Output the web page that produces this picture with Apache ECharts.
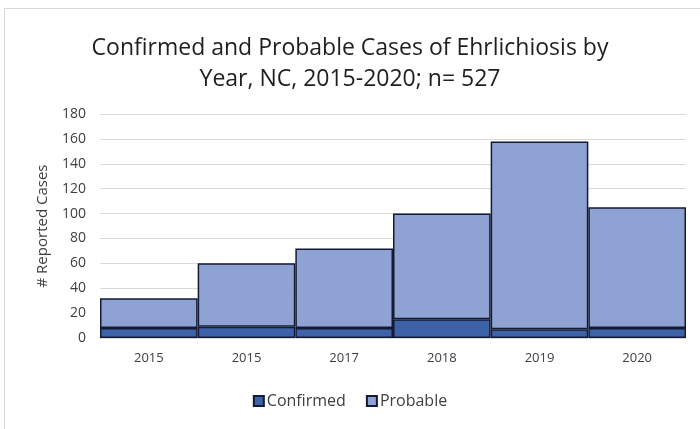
<!DOCTYPE html>
<html>
<head>
<meta charset="utf-8">
<script src="https://cdn.jsdelivr.net/npm/echarts@6/dist/echarts.min.js"></script>
<style>html,body{margin:0;padding:0;background:#fff;}#c{width:700px;height:429px;}</style>
</head>
<body>
<div id="c"></div>
<script>
var categories = ['2015', '2015', '2017', '2018', '2019', '2020'];
var confirmed = [8, 9, 8, 15, 7, 8];
var probable = [24, 51, 64, 85, 151, 97];
var yTicks = [0, 20, 40, 60, 80, 100, 120, 140, 160, 180];

var chart = echarts.init(document.getElementById('c'));
var font = "'Open Sans', 'Noto Sans', sans-serif";
chart.setOption({
  animation: false,
  backgroundColor: '#fff',
  title: {
    text: 'Confirmed and Probable Cases of Ehrlichiosis by\nYear, NC, 2015-2020; n= 527',
    left: 'center',
    top: 28,
    textStyle: { fontFamily: font, fontSize: 23, fontWeight: 'normal', color: '#1f1f1f', lineHeight: 31 }
  },
  graphic: [
    { type: 'line', shape: { x1: 4.5, y1: 8, x2: 4.5, y2: 429 }, style: { stroke: '#d9d9d9', lineWidth: 1 } },
    { type: 'line', shape: { x1: 4, y1: 8.5, x2: 700, y2: 8.5 }, style: { stroke: '#d9d9d9', lineWidth: 1 } }
  ],
  legend: {
    bottom: 15,
    left: 'center',
    icon: 'rect',
    itemWidth: 10,
    itemHeight: 10,
    itemGap: 20,
    textStyle: { fontFamily: font, fontSize: 16, color: '#404040', padding: [0, 0, 0, -2] },
    data: ['Confirmed', 'Probable']
  },
  grid: { left: 100, right: 14, top: 114, bottom: 91 },
  xAxis: {
    type: 'category',
    data: categories,
    axisLine: { show: true, lineStyle: { color: '#d9d9d9' } },
    axisTick: { show: false },
    axisLabel: { fontFamily: font, fontSize: 13, color: '#404040', margin: 14 }
  },
  yAxis: {
    type: 'value',
    min: yTicks[0],
    max: yTicks[yTicks.length - 1],
    interval: 20,
    name: '# Reported Cases',
    nameLocation: 'middle',
    nameGap: 50,
    nameTextStyle: { fontFamily: font, fontSize: 15, color: '#404040' },
    axisLine: { show: false },
    axisTick: { show: false },
    splitLine: { lineStyle: { color: '#d9d9d9' } },
    axisLabel: { fontFamily: font, fontSize: 14, color: '#404040', margin: 14 }
  },
  series: [
    {
      name: 'Confirmed', type: 'bar', stack: 's', data: confirmed,
      barCategoryGap: '0%',
      itemStyle: { color: '#3d62a8', borderColor: '#141a33', borderWidth: 1.5 }
    },
    {
      name: 'Probable', type: 'bar', stack: 's', data: probable,
      barCategoryGap: '0%',
      itemStyle: { color: '#8ea2d3', borderColor: '#141a33', borderWidth: 1.5 }
    }
  ]
});
</script>
</body>
</html>
